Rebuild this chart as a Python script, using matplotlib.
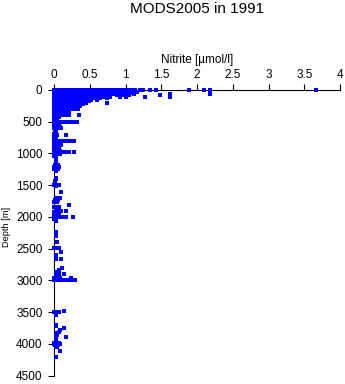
import matplotlib
matplotlib.use("Agg")
import matplotlib.pyplot as plt

plt.rcParams['font.family'] = ['Liberation Sans', 'DejaVu Sans']

title = "MODS2005 in 1991"
x_label = "Nitrite [\u00b5mol/l]"
y_label = "Depth [m]"
x_ticks = [0, 0.5, 1, 1.5, 2, 2.5, 3, 3.5, 4]
x_tick_labels = ["0", "0.5", "1", "1.5", "2", "2.5", "3", "3.5", "4"]
y_ticks = [0, 500, 1000, 1500, 2000, 2500, 3000, 3500, 4000, 4500]
y_tick_labels = ["0", "500", "1000", "1500", "2000", "2500", "3000", "3500", "4000", "4500"]

# observations grouped by depth level (m): nitrite values (umol/l)
row_depths = [5, 25, 45, 65, 85, 105, 125, 150, 175, 200, 225, 250, 275, 300,
              325, 350, 375, 400, 425, 450, 475, 505]
row_nitrite = [
    [0, .04, .08, .12, .16, .2, .24, .28, .32, .36, .4, .44, .48, .52, .56, .6, .64,
     .68, .72, .76, .8, .84, .88, .92, .96, 1.0, 1.05, 1.1, 1.13, 1.2, 1.24, 1.34,
     1.42, 1.89, 2.09, 2.18, 3.67],
    [0, .04, .08, .12, .16, .2, .24, .28, .32, .36, .4, .44, .48, .52, .56, .6, .64,
     .68, .72, .76, .8, .84, .9, .96, 1.05, 1.1, 1.16],
    [0, .04, .08, .12, .16, .2, .24, .28, .32, .36, .4, .44, .48, .52, .56, .6, .64,
     .68, .72, .76, .8, .86, .92, 1.0, 1.08],
    [0, .04, .08, .12, .16, .2, .24, .28, .32, .36, .4, .44, .48, .52, .56, .6, .64,
     .68, .72, .76, .8, .84, .92, .96, 1.12, 1.62, 2.18],
    [0, .04, .08, .12, .16, .2, .24, .28, .32, .36, .4, .44, .48, .52, .56, .6, .64,
     .68, .72, .76, .88, .96, 1.04, 1.48],
    [0, .04, .08, .12, .16, .2, .24, .28, .32, .36, .4, .44, .48, .52, .56, .6, .64,
     .68, .72, .78, .92, 1.0, 1.27, 1.62],
    [0, .04, .08, .12, .16, .2, .24, .28, .32, .36, .4, .44, .48, .52, .56, .6, .64, .74],
    [0, .04, .08, .12, .16, .2, .24, .28, .32, .36, .4, .44, .48, .52, .6],
    [0, .04, .08, .12, .16, .2, .24, .28, .32, .36, .4, .44, .48],
    [0, .04, .08, .12, .16, .2, .24, .28, .32, .36, .4, .44, .74],
    [0, .04, .08, .12, .16, .2, .24, .28, .32, .36, .4],
    [0, .04, .08, .12, .16, .2, .24, .28, .32, .36],
    [0, .04, .08, .12, .16, .2, .24, .28, .32],
    [0, .04, .08, .12, .16, .2, .24, .28, .33],
    [0, .04, .08, .12, .16, .2],
    [0, .04, .08, .12, .16],
    [0, .03, .06],
    [0, .04, .08, .12, .16, .2, .35],
    [0, .03, .06],
    [0, .04],
    [0, .04],
    [0, .04, .08, .12, .16, .2, .24, .28, .32],
]

deep_depths = [520, 550, 580, 600, 630, 660, 690, 710, 740, 770, 805, 840, 870, 900,
               930, 960, 985, 1010, 1040, 1100, 1150, 1180, 1210, 1240, 1270, 1380,
               1410, 1440, 1497, 1520, 1600, 1700, 1730, 1760, 1820, 1840, 1870, 1900,
               1930, 1960, 1997, 2030, 2060, 2233, 2302, 2391, 2496, 2549, 2601, 2670,
               2801, 2838, 2870, 2900, 2930, 2960, 3000, 3480, 3495, 3547, 3700, 3720,
               3752, 3784, 3810, 3830, 3862, 3900, 3940, 3980, 4000, 4020, 4047, 4110,
               4205]
deep_nitrite = [
    [0, .04], [0, .04, .06], [0, .04, .08], [0, .04, .1], [.01], [.02], [0, .03],
    [0, .04, .17], [.02], [0, .03], [0, .04, .08, .12, .16, .2, .24, .28], [.02, .05],
    [0, .04, .1], [0, .05], [0, .06], [0, .03, .08], [0, .04, .08, .12, .16, .2, .27],
    [0, .04, .08], [0, .03], [.02], [.03], [.01, .05], [0, .04, .07], [0, .05], [.02],
    [.02], [.02], [.01], [0, .04, .07], [.02], [.09], [.02, .06, .08], [.01, .05],
    [0, .04], [.2], [0, .04, .07], [.02, .06], [.02, .1, .17], [0, .05], [0, .04, .07],
    [0, .04, .08, .12, .16, .26], [0, .03], [.02], [.03], [.03], [.04], [0, .04, .07],
    [.09], [.03], [.03, .09], [.11], [.07], [.03, .07], [.02, .06, .14], [.03],
    [0, .04, .08, .23], [0, .04, .08, .12, .16, .2, .24, .29], [.13], [0, .03, .07],
    [.02], [.02], [.02], [.13], [.08], [.06], [.04], [.02, .04], [.03, .17], [.03],
    [0, .04, .07], [0, .04, .08], [.01, .05], [.02, .04], [.08], [.02],
]

xs, ys = [], []
for d, vals in zip(row_depths + deep_depths, row_nitrite + deep_nitrite):
    for v in vals:
        xs.append(v)
        ys.append(d)

fig = plt.figure(figsize=(3.45, 3.84), dpi=100)
ax_w = 340 - 54.3
ax_h = 375.5 - 90
ax = fig.add_axes([54.3 / 345, 1 - 375.5 / 384, ax_w / 345, ax_h / 384])

ax.scatter(xs, ys, s=5.0, marker='s', color='#0000ff', linewidths=0, clip_on=False, zorder=3)

ax.set_xlim(0, 4)
ax.set_ylim(4500, 0)
ax.xaxis.tick_top()
ax.xaxis.set_label_position('top')
ax.set_xticks(x_ticks)
ax.set_xticklabels(x_tick_labels)
ax.set_yticks(y_ticks)
ax.set_yticklabels(y_tick_labels)
ax.tick_params(axis='both', direction='out', length=4.5, width=0.8, labelsize=8.5,
               colors='black')
ax.tick_params(axis='x', pad=2)
ax.tick_params(axis='y', pad=4)
for side in ['right', 'bottom']:
    ax.spines[side].set_visible(False)
for side in ['left', 'top']:
    ax.spines[side].set_linewidth(0.8)
ax.set_xlabel(x_label, fontsize=8.5, labelpad=4)
ax.set_ylabel(y_label, fontsize=6.7)
ax.yaxis.set_label_coords((11 - 54.3) / ax_w, 1 - (227 - 90) / ax_h)

fig.text(197 / 345, 1 - 13.3 / 384, title, ha='center', va='baseline', fontsize=11)

fig.savefig("out.png", dpi=100)
